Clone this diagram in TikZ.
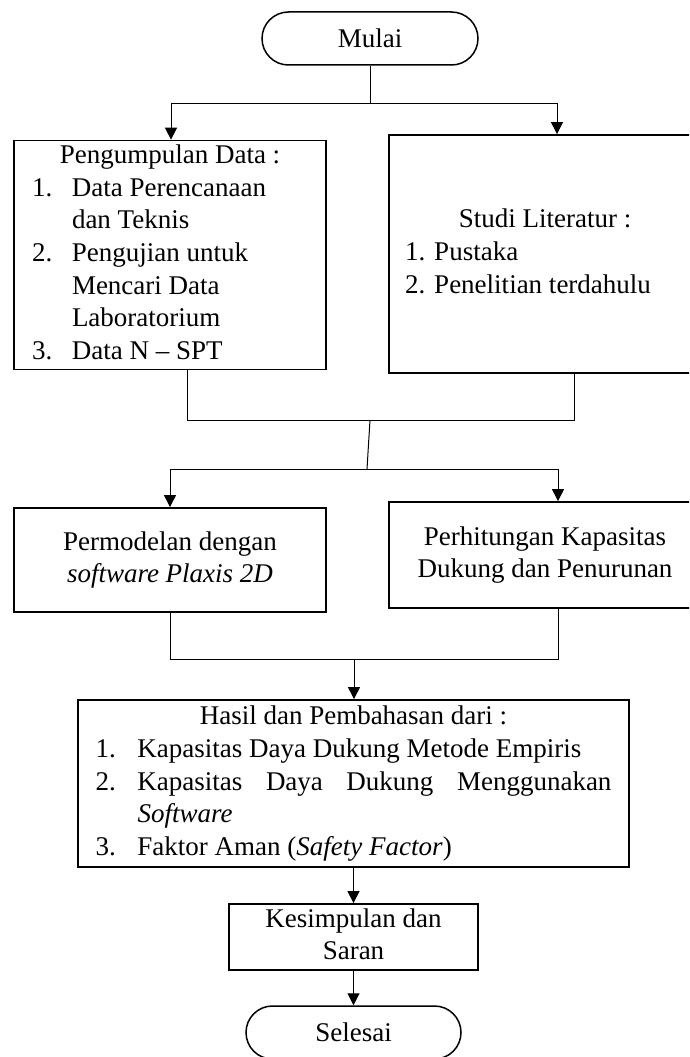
\documentclass[tikz,border=0pt]{standalone}
\usepackage{fontspec}
\setmainfont{Liberation Serif}
\usepackage{array}
\usetikzlibrary{arrows.meta,shapes.misc}
\begin{document}
\begin{tikzpicture}[x=1pt,y=-1pt,
  every node/.style={font=\fontsize{27}{32.7}\selectfont},
  box/.style={draw, line width=1.8pt, rectangle, inner sep=0pt},
  term/.style={draw, line width=1.5pt, rounded rectangle, inner sep=0pt,
               minimum width=216pt, minimum height=53pt},
  conn/.style={line width=1pt},
  arr/.style={line width=1pt, -{Triangle[length=12pt,width=12pt]}}]
\useasboundingbox (0,0) rectangle (689,1057);
\clip (0,0) rectangle (689,1057);

% nodes
\node[term] (mulai) at (370,38.5) {Mulai};

\node[box, minimum width=312pt, minimum height=228pt] (lbox) at (170,255) {%
\begin{tabular}{@{}p{40pt}@{}p{236pt}@{}}
\multicolumn{2}{@{}c@{}}{Pengumpulan Data :}\\
1. & Data Perencanaan\newline dan Teknis\\
2. & Pengujian untuk\newline Mencari Data\newline Laboratorium\\
3. & Data N – SPT
\end{tabular}};

\node[box, minimum width=312pt, minimum height=238pt] (rbox) at (545,254) {%
\begin{tabular}{@{}p{280pt}@{}}
\multicolumn{1}{@{}c@{}}{Studi Literatur :}\\
1. Pustaka\\
2. Penelitian terdahulu
\end{tabular}};

\node[box, minimum width=312pt, minimum height=104pt] (pbox) at (170,560) {%
\begin{tabular}{@{}c@{}}
Permodelan dengan\\
\textit{software Plaxis 2D}
\end{tabular}};

\node[box, minimum width=312pt, minimum height=106pt] (hbox) at (545,555) {%
\begin{tabular}{@{}c@{}}
Perhitungan Kapasitas\\
Dukung dan Penurunan
\end{tabular}};

\node[box, minimum width=551pt, minimum height=167pt] (hasil) at (353.5,783.5) {%
\begin{tabular}{@{}p{42pt}@{}p{474pt}@{}}
\multicolumn{2}{@{}c@{}}{Hasil dan Pembahasan dari :}\\
1. & Kapasitas Daya Dukung Metode Empiris\\
2. & \makebox[474pt][s]{Kapasitas Daya Dukung Menggunakan}\newline\textit{Software}\\
3. & Faktor Aman (\textit{Safety Factor})
\end{tabular}};

\node[box, minimum width=249pt, minimum height=66pt] (kes) at (353.5,937) {%
\begin{tabular}{@{}c@{}}
Kesimpulan dan\\
Saran
\end{tabular}};

\node[term, minimum width=215pt] (selesai) at (353.5,1032.5) {Selesai};

% junction points
\coordinate (j1)  at (370,103);
\coordinate (j1l) at (171,103);
\coordinate (j1r) at (557,103);
\coordinate (j2l) at (187,420);
\coordinate (j2r) at (574,420);
\coordinate (j2m) at (370,420);
\coordinate (j3m) at (367,469);
\coordinate (j3l) at (170,469);
\coordinate (j3r) at (558,469);
\coordinate (j4l) at (170,659);
\coordinate (j4r) at (558,659);
\coordinate (j4m) at (354,659);

% connectors
\draw[conn] (mulai.south) -- (j1);
\draw[conn] (j1l) -- (j1r);
\draw[arr] (j1l) -- (j1l |- lbox.north);
\draw[arr] (j1r) -- (j1r |- rbox.north);

\draw[conn] (j2l |- lbox.south) -- (j2l) -- (j2r) -- (j2r |- rbox.south);
\draw[conn] (j2m) -- (j3m);
\draw[conn] (j3l) -- (j3r);
\draw[arr] (j3l) -- (j3l |- pbox.north);
\draw[arr] (j3r) -- (j3r |- hbox.north);

\draw[conn] (j4l |- pbox.south) -- (j4l) -- (j4r) -- (j4r |- hbox.south);
\draw[arr] (j4m) -- (j4m |- hasil.north);
\draw[arr] (hasil.south) -- (kes.north);
\draw[arr] (kes.south) -- (selesai.north);
\end{tikzpicture}
\end{document}
